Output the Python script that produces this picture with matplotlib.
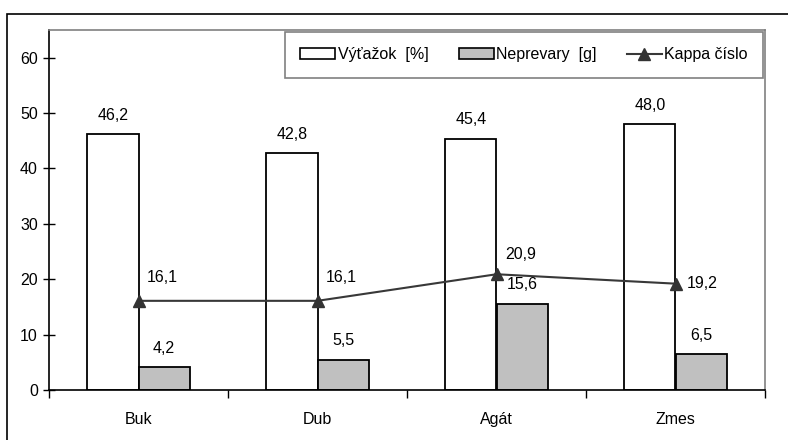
import matplotlib
matplotlib.use("Agg")
import matplotlib.pyplot as plt
import numpy as np
from matplotlib.patches import Rectangle, Patch
from matplotlib.lines import Line2D

plt.rcParams['font.family'] = ['Liberation Sans', 'DejaVu Sans']

categories = ["Buk", "Dub", "Agát", "Zmes"]
vytazok = [46.2, 42.8, 45.4, 48.0]
neprevary = [4.2, 5.5, 15.6, 6.5]
kappa = [16.1, 16.1, 20.9, 19.2]
yticks = [0, 10, 20, 30, 40, 50, 60]
series_names = ["Výťažok  [%]", "Neprevary  [g]", "Kappa číslo"]

def fmt(v):
    return f"{v:.1f}".replace(".", ",")

FS = 11.5
W, H = 788, 440
fig = plt.figure(figsize=(W / 100, H / 100), dpi=100)

# outer frame
fig.patches.append(Rectangle((7 / W, -0.05), 1.2, (H - 14) / H + 0.05, transform=fig.transFigure,
                             fill=False, edgecolor='black', linewidth=1.2))

ax = fig.add_axes([49 / W, (H - 390) / H, (765 - 49) / W, (390 - 30) / H])
x = np.arange(len(categories))
bw = 0.285
ax.bar(x - bw / 2, vytazok, width=bw, color='white', edgecolor='black', linewidth=1.3, zorder=2)
ax.bar(x + bw / 2, neprevary, width=bw, color='#c0c0c0', edgecolor='black', linewidth=1.3, zorder=2)
ax.plot(x, kappa, color='#383838', linewidth=1.5, marker='^', markersize=8,
        markerfacecolor='#333333', markeredgecolor='#333333', zorder=3)

ax.set_xlim(-0.5, len(categories) - 0.5)
ax.set_ylim(0, 65)

for xi, v in zip(x, vytazok):
    ax.annotate(fmt(v), (xi - bw / 2, v), xytext=(0, 8), textcoords='offset points',
                ha='center', va='bottom', fontsize=FS)
for xi, v in zip(x, neprevary):
    ax.annotate(fmt(v), (xi + bw / 2, v), xytext=(0, 8), textcoords='offset points',
                ha='center', va='bottom', fontsize=FS)
kappa_offsets = [(6, 17), (6, 17), (6, 14), (8, 0)]
for xi, v, off in zip(x, kappa, kappa_offsets):
    ax.annotate(fmt(v), (xi, v), xytext=off, textcoords='offset points',
                ha='left', va='center', fontsize=FS)

ax.set_yticks(yticks)
ax.set_yticklabels([str(t) for t in yticks], fontsize=FS)
ax.tick_params(axis='y', direction='inout', length=8, width=1, pad=4)
ax.set_xticks(x)
ax.set_xticklabels(categories, fontsize=FS)
ax.tick_params(axis='x', length=0, pad=16)
# category boundary ticks
ax.set_xticks(np.arange(len(categories) + 1) - 0.5, minor=True)
ax.tick_params(axis='x', which='minor', direction='out', length=6, width=1)

for s in ['left', 'bottom']:
    ax.spines[s].set_color('black')
    ax.spines[s].set_linewidth(1.2)
for s in ['top', 'right']:
    ax.spines[s].set_color('#808080')
    ax.spines[s].set_linewidth(1.2)

handles = [Patch(facecolor='white', edgecolor='black', linewidth=1.2),
           Patch(facecolor='#c0c0c0', edgecolor='black', linewidth=1.2),
           Line2D([0], [0], color='#383838', linewidth=1.5, marker='^', markersize=8,
                  markerfacecolor='#333333', markeredgecolor='#333333')]
leg = fig.legend(handles, series_names, ncol=3, loc='center',
                 bbox_to_anchor=(285 / W, (H - 78) / H, (763 - 285) / W, 46 / H),
                 mode='expand', fontsize=FS, frameon=True, fancybox=False,
                 handlelength=2.2, handleheight=0.7, handletextpad=0.15,
                 borderaxespad=0, borderpad=0.95)
leg.get_frame().set_edgecolor('#606060')
leg.get_frame().set_linewidth(1.2)

fig.savefig("out.png", dpi=100)
